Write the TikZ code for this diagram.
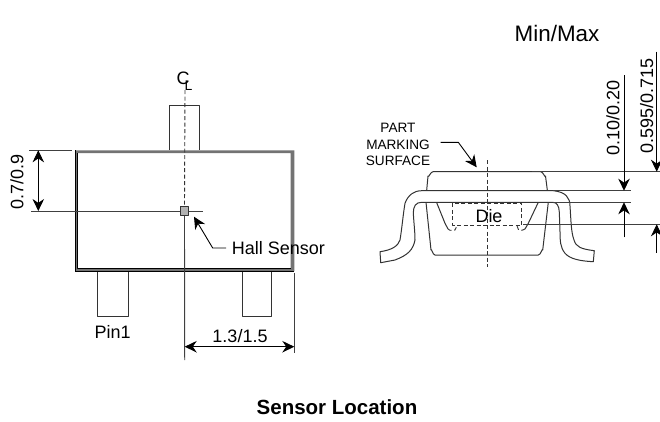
\documentclass[tikz,border=0pt]{standalone}
\usepackage{fontspec}
\setmainfont{Liberation Sans}
\usetikzlibrary{arrows.meta}
\tikzset{
	lbl/.style={inner sep=0pt,font=\fontsize{18}{20}\selectfont},
	smalllbl/.style={inner sep=0pt,align=center,font=\fontsize{13.6}{16.5}\selectfont},
	dim/.style={draw=black,line width=0.9pt},
	ext/.style={draw=black!75,line width=0.9pt},
	outline/.style={draw=black!80,line width=1pt},
	hidden/.style={draw=black!80,line width=0.9pt,dash pattern=on 4pt off 2.5pt}
}
\begin{document}
\begin{tikzpicture}[x=1pt,y=-1pt,line join=round,>={Stealth[length=12pt,width=11.5pt]}]
	\useasboundingbox (0,0) rectangle (660,421);
	\fill[white] (0,0) rectangle (660,421);
	% top view
	\draw[outline] (169.7,150.3)--(169.7,105.3)--(199.7,105.3)--(199.7,150.3);
	\draw[outline] (97.7,271)--(97.7,316.7)--(128.3,316.7)--(128.3,271);
	\draw[outline] (242.7,271)--(242.7,316.7)--(271.7,316.7)--(271.7,271);
	\fill[black!55,even odd rule] (75,150.3) rectangle (294.3,271) (77.3,153) rectangle (290.7,268.7);
	\draw[line width=1pt] (75,271)--(75,150.3) (75,271)--(294.3,271) (77.3,153)--(77.3,268.7)--(290.7,268.7);
	\coordinate (dimtop) at (38.3,150.3);
	\coordinate (dimsensor) at (38.3,211);
	\coordinate (dimcl) at (184.7,346.7);
	\coordinate (dimedge) at (294.3,346.7);
	\node[draw=black!80,fill=black!30,line width=0.9pt,minimum size=8.4pt,inner sep=0pt] (sensor) at (184.5,211) {};
	\draw[hidden] (185,90)--(sensor.north);
	\draw[ext] (31,211)--(sensor.west);
	\draw[ext] (sensor.east)--(203,211);
	\draw[ext] (29.3,150.3)--(71.7,150.3);
	\draw[ext] (sensor.south)--(184.7,360);
	\draw[ext] (294.3,273.3)--(294.3,353.3);
	\draw[dim,<->] (dimtop)--(dimsensor);
	\draw[dim,<->] (dimcl)--(dimedge);
	\node[lbl,rotate=90] (toplabel) at (17,182) {0.7/0.9};
	\node[lbl] (widthlabel) at (240,336) {1.3/1.5};
	\node[lbl] (pinlabel) at (112.7,331.7) {Pin1};
	\node[lbl,anchor=west] (halllabel) at (231.7,248) {Hall Sensor};
	\draw[dim,->] ([xshift=-5.5pt]halllabel.west)--(212.7,248)--(194,216.7);
	\node[lbl] (cllabel) at (184.5,81) {C\kern-5pt\raisebox{-6pt}{\fontsize{14}{14}\selectfont L}};
	% side view
	\draw[outline] (426.7,190)--(428,176) to[out=-80,in=180] (433,171.7)--(540.7,171.7) to[out=0,in=-100] (545.5,176)--(547.3,190);
	\draw[outline] (421.7,190.7)--(553.3,190.7) .. controls (566,192) and (570,198) .. (570,206)
		.. controls (571,220) and (571,232) .. (574,240) .. controls (576,247) and (581,249) .. (594.3,250.7)
		--(593.3,261.7) .. controls (580,261) and (570,259) .. (565,253.3) .. controls (560,247) and (560,240) .. (560,232)
		--(559.3,212) .. controls (559,206) and (557,202.3) .. (552.7,202.3)--(421.7,202.3)
		.. controls (416,202.3) and (413.3,206) .. (413.3,213) .. controls (414,225) and (415,232) .. (415,240)
		.. controls (413,250) and (408,255) .. (395,260)--(380.7,262.7)--(380,251.7)
		.. controls (392,250) and (398,246) .. (400,240) .. controls (402,228) and (403,215) .. (405,203.3)
		.. controls (408,195) and (414,190.7) .. (421.7,190.7);
	\draw[outline] (426,202.3)--(431,250) to[out=80,in=180] (435,255)--(538.3,255) to[out=0,in=100] (542.7,250)--(548.3,202.3);
	\draw[outline] (436.7,202.7)--(445,223.3)--(448,229);
	\draw[outline] (538.3,202.3)--(528.3,223.3)--(525,229);
	\draw[hidden] (448,229)--(450,230.3)--(455,230)--(457.3,225);
	\draw[hidden] (525,229)--(522,230.3)--(518.3,229.3)--(516.7,225);
	\draw[hidden] (452.7,203.3) rectangle (521.7,225);
	\draw[hidden] (487.3,160)--(487.3,266.7);
	\node[lbl] (dielabel) at (489,216) {Die};
	\draw[ext] (532.3,171.7)--(660,171.7);
	\draw[ext] (553.3,190.7)--(631,190.7);
	\draw[ext] (552.7,202.3)--(631,202.3);
	\draw[ext] (523.3,224.3)--(660,224.3);
	\coordinate (leadtop) at (624,190.7);
	\coordinate (leadbot) at (624,202.3);
	\coordinate (pkgtop) at (656.7,171.7);
	\coordinate (diebot) at (656.7,224.3);
	\draw[dim,->] (624,75)--(leadtop);
	\draw[dim,->] (624,237.3)--(leadbot);
	\draw[dim,->] (656.7,51.7)--(pkgtop);
	\draw[dim,->] (656.7,252.7)--(diebot);
	\node[lbl,rotate=90] (leadlabel) at (613,118) {0.10/0.20};
	\node[lbl,rotate=90] (heightlabel) at (646.7,105.7) {0.595/0.715};
	\node[smalllbl] (marklabel) at (398,144.5) {PART\\MARKING\\SURFACE};
	\draw[dim,->] (440.7,142.3)--(458.3,142.3)--(476.7,167.3);
	\node[lbl,font=\fontsize{22.4}{24}\selectfont] (minmax) at (557,33) {Min/Max};
	\node[lbl,font=\bfseries\fontsize{20.5}{22}\selectfont] (caption) at (337,407) {Sensor Location};
\end{tikzpicture}
\end{document}
